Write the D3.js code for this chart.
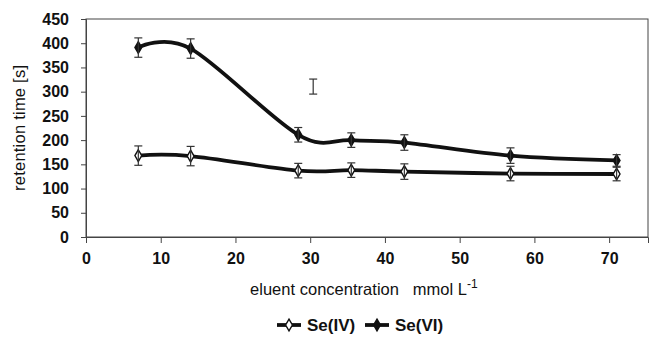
<!DOCTYPE html>
<html>
<head>
<meta charset="utf-8">
<script src="https://cdn.jsdelivr.net/npm/d3@7"></script>
<style>
    body { margin: 0; background: #fff; }
    svg text { font-family: "Liberation Sans", Arial, sans-serif; fill: #111; }
</style>
</head>
<body>
<svg id="chart" width="650" height="339"></svg>
<script>
// Data
const conc = [7, 14, 28.4, 35.5, 42.6, 56.8, 71];
const seIV = [168, 167, 137, 138, 135, 131, 130];
const seIVerr = [20, 20, 15, 15, 16, 15, 14];
const seVI = [391, 389, 211, 200, 195, 168, 158];
const seVIerr = [20, 20, 15, 15, 16, 16, 12];
// stray error bar with no marker
const loneBar = [30.4, 310.5, 15.5];
const xTicks = [0, 10, 20, 30, 40, 50, 60, 70];
const yTicks = [0, 50, 100, 150, 200, 250, 300, 350, 400, 450];
const seriesNames = ["Se(IV)", "Se(VI)"];

/**************************************************************************************************/
const svg = d3.select("#chart");
const margin = { left: 86, right: 2, top: 19, bottom: 102 };
const width = 650 - margin.left - margin.right;
const height = 339 - margin.top - margin.bottom;

const x = d3.scaleLinear().domain([0, 75.2]).range([margin.left, margin.left + width]);
const y = d3.scaleLinear().domain([0, 450]).range([margin.top + height, margin.top]);

// frame
svg.append("rect")
    .attr("x", margin.left).attr("y", margin.top)
    .attr("width", width).attr("height", height)
    .attr("fill", "none").attr("stroke", "#444").attr("stroke-width", 1);

const xAxis = svg.append("g")
    .attr("transform", `translate(0,${margin.top + height})`)
    .call(d3.axisBottom(x).tickValues(xTicks).tickSize(6).tickPadding(10));
const yAxis = svg.append("g")
    .attr("transform", `translate(${margin.left},0)`)
    .call(d3.axisLeft(y).tickValues(yTicks).tickSize(5).tickPadding(12));

[xAxis, yAxis].forEach(a => {
    a.select(".domain").attr("stroke", "#444");
    a.selectAll(".tick line").attr("stroke", "#444");
    a.selectAll(".tick text")
        .style("font-size", "16px")
        .style("font-weight", "bold")
        .attr("fill", "#111");
});

// axis titles
svg.append("text")
    .attr("transform", `translate(25,${margin.top + height / 2}) rotate(-90)`)
    .attr("text-anchor", "middle")
    .attr("textLength", 126)
    .attr("lengthAdjust", "spacing")
    .style("font-size", "16.5px")
    .text("retention time [s]");

const xt = svg.append("text")
    .attr("x", 250).attr("y", 295)
    .style("font-size", "16.5px")
    .style("white-space", "pre");
xt.append("tspan")
    .attr("textLength", 217)
    .attr("lengthAdjust", "spacing")
    .text("eluent concentration   mmol L");
xt.append("tspan").attr("dy", -7).style("font-size", "12px").text("-1");

// series
const line = d3.line()
    .x(d => x(d[0]))
    .y(d => y(d[1]))
    .curve(d3.curveCardinal.tension(0));

const series = [
    { vals: seIV, err: seIVerr, fill: "#fff" },
    { vals: seVI, err: seVIerr, fill: "#111" }
];

series.forEach(s => {
    const pts = d3.zip(conc, s.vals, s.err);
    svg.append("path")
        .attr("d", line(pts))
        .attr("fill", "none")
        .attr("stroke", "#111")
        .attr("stroke-width", 3.8);
});

function errorBar(cx, cy, e) {
    const g = svg.append("g").attr("stroke", "#333").attr("stroke-width", 1.2);
    g.append("line").attr("x1", x(cx)).attr("x2", x(cx)).attr("y1", y(cy - e)).attr("y2", y(cy + e));
    g.append("line").attr("x1", x(cx) - 4).attr("x2", x(cx) + 4).attr("y1", y(cy - e)).attr("y2", y(cy - e));
    g.append("line").attr("x1", x(cx) - 4).attr("x2", x(cx) + 4).attr("y1", y(cy + e)).attr("y2", y(cy + e));
}

const diamond = d3.symbol().type(d3.symbolDiamond).size(40);

series.forEach(s => {
    const pts = d3.zip(conc, s.vals, s.err);
    svg.append("g").selectAll("path")
        .data(pts)
        .join("path")
            .attr("d", diamond)
            .attr("transform", d => `translate(${x(d[0])},${y(d[1])})`)
            .attr("fill", s.fill)
            .attr("stroke", "#111")
            .attr("stroke-width", 1.4);
    pts.forEach(d => errorBar(d[0], d[1], d[2]));
});

errorBar(loneBar[0], loneBar[1], loneBar[2]);

// legend
const legend = svg.append("g").attr("transform", "translate(277,325)");
const legX = [0, 88];
series.forEach((s, i) => {
    const g = legend.append("g").attr("transform", `translate(${legX[i]},0)`);
    g.append("line").attr("x1", 0).attr("x2", 24).attr("y1", 0).attr("y2", 0)
        .attr("stroke", "#111").attr("stroke-width", 3.8);
    g.append("path").attr("d", diamond).attr("transform", "translate(12,0)")
        .attr("fill", s.fill).attr("stroke", "#111").attr("stroke-width", 1.4);
    g.append("text").attr("x", 30).attr("y", 6)
        .style("font-size", "17px").style("font-weight", "bold")
        .text(seriesNames[i]);
});
</script>
</body>
</html>
